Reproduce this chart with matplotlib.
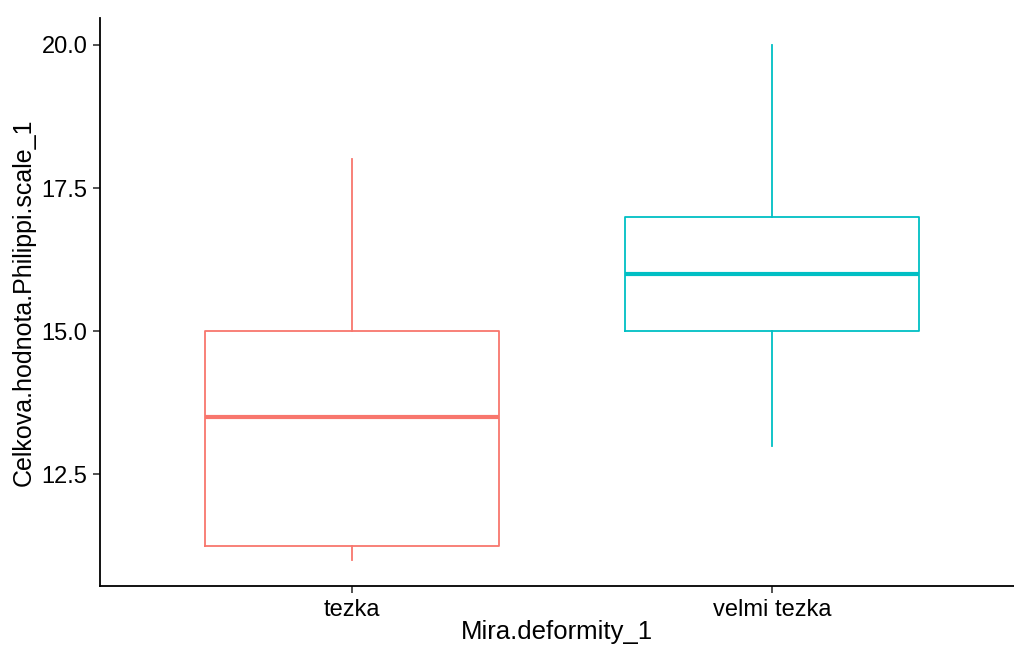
import matplotlib
matplotlib.use('Agg')
import matplotlib.pyplot as plt

# box statistics
categories = ['tezka', 'velmi tezka']
whisker_low = [11.0, 13.0]
q1 = [11.25, 15.0]
median = [13.5, 16.0]
q3 = [15.0, 17.0]
whisker_high = [18.0, 20.0]
colors = ['#F8766D', '#00BFC4']

plt.rcParams['font.family'] = ['Liberation Sans', 'DejaVu Sans']

fig = plt.figure(figsize=(10.14, 6.48), dpi=100)
ax = fig.add_axes([100 / 1014, 1 - 586 / 648, 914 / 1014, 568 / 648])

stats = []
for i, cat in enumerate(categories):
    stats.append(dict(label=cat, whislo=whisker_low[i], q1=q1[i], med=median[i],
                      q3=q3[i], whishi=whisker_high[i], fliers=[]))

for i, s in enumerate(stats):
    c = colors[i]
    ax.bxp([s], positions=[i + 1], widths=0.7, showcaps=False,
           boxprops=dict(color=c, linewidth=1.3),
           whiskerprops=dict(color=c, linewidth=1.3),
           medianprops=dict(color=c, linewidth=3),
           manage_ticks=False)

ax.set_xlim(0.4, 2.576)
ax.set_ylim(10.55, 20.47)
ax.set_xticks([1, 2])
ax.set_xticklabels(categories)
ax.set_yticks([12.5, 15.0, 17.5, 20.0])
ax.set_yticklabels(['12.5', '15.0', '17.5', '20.0'])

for side in ['top', 'right']:
    ax.spines[side].set_visible(False)
for side in ['left', 'bottom']:
    ax.spines[side].set_linewidth(1.3)
    ax.spines[side].set_color('black')

ax.tick_params(axis='both', labelsize=17, length=5, width=1.2, color='#333333',
               labelcolor='black', pad=4)
ax.set_xlabel('Mira.deformity_1', fontsize=18.5, labelpad=0)
ax.set_ylabel('Celkova.hodnota.Philippi.scale_1', fontsize=18, labelpad=4)

plt.savefig('out.png', dpi=100)
plt.close()
